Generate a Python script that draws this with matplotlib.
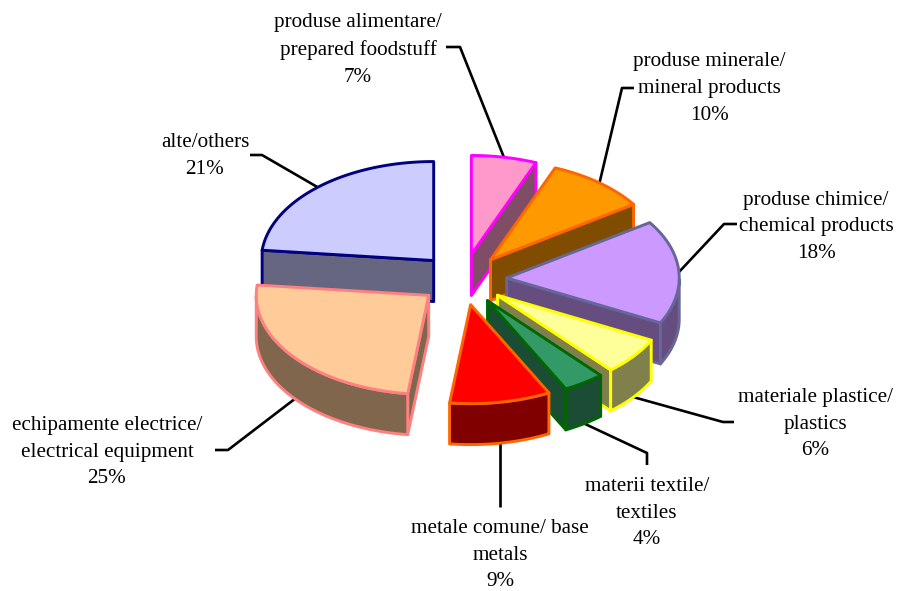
import numpy as np
import matplotlib
matplotlib.use("Agg")
import matplotlib.pyplot as plt
from matplotlib.patches import Polygon

plt.rcParams["font.family"] = ["Liberation Serif", "DejaVu Serif"]

# percentages printed on the labels
labels = ["produse alimentare/\nprepared foodstuff", "produse minerale/\nmineral products",
          "produse chimice/\nchemical products", "materiale plastice/\nplastics",
          "materii textile/\ntextiles", "metale comune/ base\nmetals",
          "echipamente electrice/\nelectrical equipment", "alte/others"]
percent = [7, 10, 18, 6, 4, 9, 25, 21]
# width of each slice as it looks in the 3d view (degrees), the view squeezes them
sweep = [22, 34, 61, 22, 14, 34, 89, 84]

fill = ["#ff99cc", "#ff9900", "#cc99ff", "#ffff99", "#339966", "#ff0000", "#ffcc99", "#ccccff"]
wall = ["#804d66", "#804d00", "#664d80", "#80804d", "#1a4d33", "#800000", "#80664d", "#666680"]
edge = ["#ff00ff", "#ff6600", "#666699", "#ffff00", "#006600", "#ff6600", "#ff8080", "#000080"]

# label centre and leader line for each slice
label_x = [358, 709, 816, 815, 647, 500, 107, 205]
label_y = [50, 88.5, 227, 424, 513, 555, 452, 156]
leaders = [[(446, 47), (460, 47), (505, 160)],
           [(634, 88), (622, 88), (599, 185)],
           [(737, 224), (724, 224), (679, 272)],
           [(734, 422), (723, 422), (633, 397)],
           [(647, 465), (647, 453), (583, 423)],
           [(500, 507), (500, 443)],
           [(215, 450), (228, 450), (296, 398)],
           [(250, 155), (262, 155), (319, 188)]]

# order the slices get painted, back to front
paint_order = [7, 0, 1, 2, 3, 4, 6, 5]

cx, cy = 463, 279.5
rx, ry = 172.5, 99
ex, ey = 43.8, 25.5
depth = 41

fig = plt.figure(figsize=(8.97, 5.91), dpi=100)
ax = fig.add_axes([0, 0, 1, 1])
ax.set_xlim(0, 897)
ax.set_ylim(591, 0)
ax.axis("off")

ends = np.cumsum(sweep)
starts = ends - np.array(sweep)


def draw_slice(i):
    t1, t2 = np.radians(starts[i]), np.radians(ends[i])
    mid = (t1 + t2) / 2
    ax0 = cx + ex * np.sin(mid)
    ay0 = cy - ey * np.cos(mid)
    t = np.linspace(t1, t2, 80)
    xs = ax0 + rx * np.sin(t)
    ys = ay0 - ry * np.cos(t)
    style = dict(edgecolor=edge[i], linewidth=2.1, joinstyle="round")

    # radial side faces that look downwards
    if np.sin(t1) < -1e-6:
        ax.add_patch(Polygon([(ax0, ay0), (xs[0], ys[0]), (xs[0], ys[0] + depth), (ax0, ay0 + depth)],
                             facecolor=wall[i], **style))
    if np.sin(t2) > 1e-6:
        ax.add_patch(Polygon([(ax0, ay0), (xs[-1], ys[-1]), (xs[-1], ys[-1] + depth), (ax0, ay0 + depth)],
                             facecolor=wall[i], **style))
    # outer rim, only the front part shows
    front = np.cos(t) < 0
    if front.any():
        fx, fy = xs[front], ys[front]
        ax.add_patch(Polygon(np.r_[np.c_[fx, fy], np.c_[fx[::-1], fy[::-1] + depth]],
                             facecolor=wall[i], **style))
    ax.add_patch(Polygon(np.r_[[(ax0, ay0)], np.c_[xs, ys]], facecolor=fill[i], **style))


for line in leaders:
    pts = np.array(line)
    ax.plot(pts[:, 0], pts[:, 1], color="black", lw=1.9, solid_capstyle="butt", zorder=0)

for i in paint_order:
    draw_slice(i)

for i in range(len(labels)):
    ax.text(label_x[i], label_y[i], labels[i] + "\n" + str(percent[i]) + "%", ha="center", va="center",
            fontsize=15.2, linespacing=1.56, color="black")

fig.savefig("out.png", dpi=100)
